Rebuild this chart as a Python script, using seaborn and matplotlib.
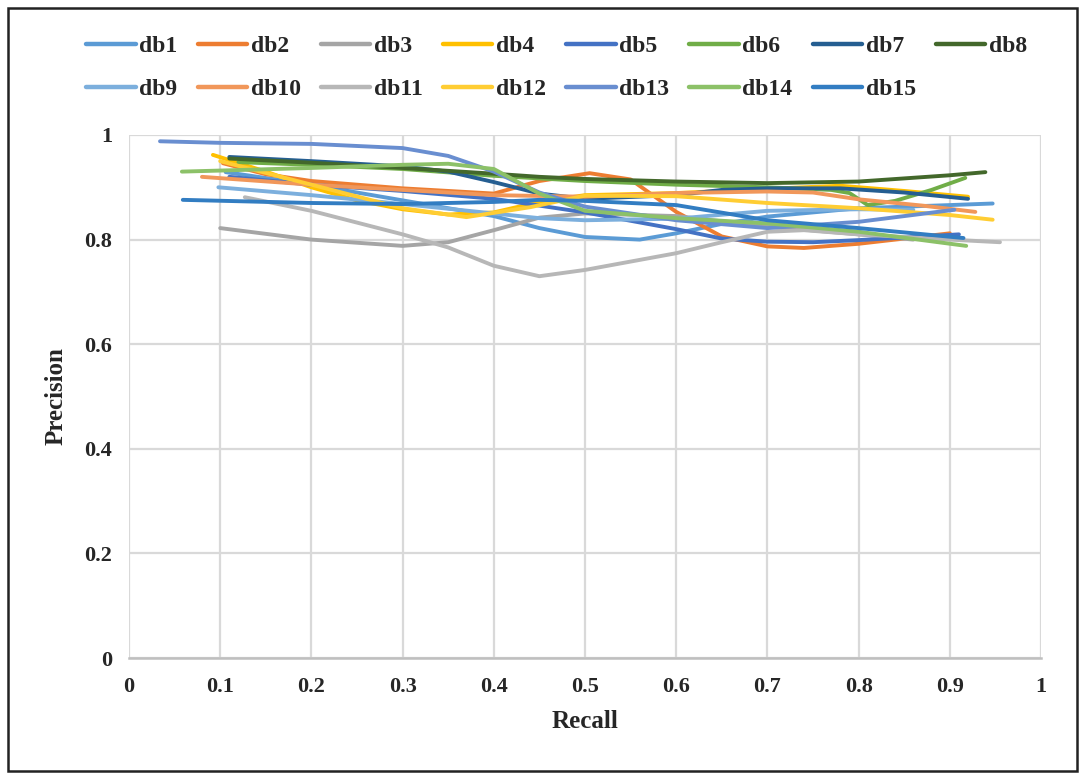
import matplotlib
matplotlib.use("Agg")
import matplotlib.pyplot as plt
import seaborn as sns
import pandas as pd
from matplotlib.patches import Rectangle
from matplotlib.lines import Line2D

# ---- data ----
db1_recall = [0.106, 0.2, 0.3, 0.4, 0.45, 0.5, 0.56, 0.6, 0.65, 0.7, 0.8, 0.9, 0.947]
db1_precision = [0.929, 0.905, 0.875, 0.845, 0.822, 0.805, 0.800, 0.812, 0.83, 0.844, 0.86, 0.866, 0.869]

db2_recall = [0.103, 0.15, 0.2, 0.3, 0.4, 0.45, 0.505, 0.55, 0.6, 0.65, 0.7, 0.74, 0.8, 0.85, 0.9]
db2_precision = [0.946, 0.925, 0.912, 0.898, 0.888, 0.912, 0.927, 0.915, 0.853, 0.806, 0.787, 0.784, 0.792, 0.802, 0.812]

db3_recall = [0.1, 0.2, 0.3, 0.35, 0.4, 0.45, 0.5, 0.6, 0.7, 0.8, 0.86]
db3_precision = [0.822, 0.80, 0.788, 0.795, 0.818, 0.842, 0.85, 0.845, 0.825, 0.81, 0.80]

db4_recall = [0.092, 0.15, 0.2, 0.25, 0.3, 0.35, 0.4, 0.45, 0.5, 0.6, 0.7, 0.78, 0.85, 0.92]
db4_precision = [0.962, 0.93, 0.90, 0.875, 0.858, 0.848, 0.852, 0.872, 0.885, 0.889, 0.897, 0.903, 0.893, 0.882]

db5_recall = [0.11, 0.2, 0.3, 0.4, 0.45, 0.5, 0.6, 0.65, 0.7, 0.75, 0.8, 0.86, 0.91]
db5_precision = [0.92, 0.905, 0.893, 0.878, 0.865, 0.852, 0.82, 0.802, 0.796, 0.795, 0.799, 0.805, 0.81]

db6_recall = [0.12, 0.2, 0.3, 0.4, 0.5, 0.6, 0.7, 0.77, 0.79, 0.81, 0.84, 0.88, 0.917]
db6_precision = [0.948, 0.943, 0.935, 0.922, 0.912, 0.905, 0.90, 0.895, 0.889, 0.866, 0.874, 0.895, 0.918]

db7_recall = [0.11, 0.2, 0.3, 0.35, 0.4, 0.45, 0.5, 0.6, 0.65, 0.7, 0.78, 0.85, 0.92]
db7_precision = [0.958, 0.95, 0.94, 0.93, 0.91, 0.888, 0.878, 0.885, 0.895, 0.898, 0.898, 0.89, 0.878]

db8_recall = [0.11, 0.2, 0.3, 0.4, 0.45, 0.5, 0.6, 0.7, 0.8, 0.9, 0.939]
db8_precision = [0.955, 0.947, 0.937, 0.926, 0.92, 0.916, 0.911, 0.908, 0.911, 0.923, 0.929]

db9_recall = [0.098, 0.2, 0.3, 0.4, 0.45, 0.5, 0.6, 0.7, 0.8, 0.86]
db9_precision = [0.90, 0.885, 0.868, 0.85, 0.841, 0.837, 0.84, 0.855, 0.858, 0.857]

db10_recall = [0.08, 0.2, 0.3, 0.4, 0.5, 0.6, 0.7, 0.75, 0.8, 0.87, 0.928]
db10_precision = [0.92, 0.905, 0.895, 0.885, 0.882, 0.889, 0.892, 0.89, 0.877, 0.865, 0.853]

db11_recall = [0.127, 0.2, 0.3, 0.35, 0.4, 0.45, 0.5, 0.6, 0.65, 0.7, 0.74, 0.8, 0.9, 0.955]
db11_precision = [0.881, 0.855, 0.81, 0.785, 0.75, 0.73, 0.742, 0.774, 0.795, 0.815, 0.818, 0.81, 0.80, 0.795]

db12_recall = [0.1, 0.2, 0.3, 0.37, 0.44, 0.5, 0.6, 0.7, 0.8, 0.9, 0.947]
db12_precision = [0.95, 0.905, 0.86, 0.843, 0.862, 0.884, 0.883, 0.87, 0.86, 0.847, 0.838]

db13_recall = [0.034, 0.1, 0.2, 0.3, 0.35, 0.4, 0.45, 0.5, 0.6, 0.7, 0.8, 0.905]
db13_precision = [0.988, 0.985, 0.983, 0.975, 0.96, 0.93, 0.89, 0.863, 0.837, 0.822, 0.834, 0.857]

db14_recall = [0.058, 0.1, 0.2, 0.3, 0.35, 0.4, 0.45, 0.5, 0.6, 0.7, 0.8, 0.918]
db14_precision = [0.93, 0.932, 0.937, 0.943, 0.945, 0.935, 0.888, 0.855, 0.841, 0.831, 0.815, 0.788]

db15_recall = [0.059, 0.2, 0.3, 0.4, 0.45, 0.5, 0.6, 0.7, 0.8, 0.915]
db15_precision = [0.876, 0.87, 0.868, 0.872, 0.876, 0.874, 0.866, 0.837, 0.822, 0.803]

series_names = ["db1", "db2", "db3", "db4", "db5", "db6", "db7", "db8",
                "db9", "db10", "db11", "db12", "db13", "db14", "db15"]
series_colors = ["#5B9BD5", "#ED7D31", "#A5A5A5", "#FFC000", "#4472C4", "#70AD47",
                 "#255E91", "#43682B", "#7CAFDD", "#F1975A", "#B7B7B7", "#FFCD33",
                 "#698ED0", "#8CC168", "#327DC2"]
x_ticks = [0, 0.1, 0.2, 0.3, 0.4, 0.5, 0.6, 0.7, 0.8, 0.9, 1]
x_tick_labels = ["0", "0.1", "0.2", "0.3", "0.4", "0.5", "0.6", "0.7", "0.8", "0.9", "1"]
y_ticks = [0, 0.2, 0.4, 0.6, 0.8, 1]
y_tick_labels = ["0", "0.2", "0.4", "0.6", "0.8", "1"]

recalls = [db1_recall, db2_recall, db3_recall, db4_recall, db5_recall, db6_recall,
           db7_recall, db8_recall, db9_recall, db10_recall, db11_recall, db12_recall,
           db13_recall, db14_recall, db15_recall]
precisions = [db1_precision, db2_precision, db3_precision, db4_precision, db5_precision,
              db6_precision, db7_precision, db8_precision, db9_precision, db10_precision,
              db11_precision, db12_precision, db13_precision, db14_precision, db15_precision]

rows = []
for name, rs, ps in zip(series_names, recalls, precisions):
    for i, (r, p) in enumerate(zip(rs, ps)):
        rows.append({"series": name, "order": i, "Recall": r, "Precision": p})
df = pd.DataFrame(rows)

# ---- plotting ----
sns.set_theme(style="white")
plt.rcParams["font.family"] = ["Liberation Serif", "DejaVu Serif"]
plt.rcParams["font.weight"] = "bold"

fig = plt.figure(figsize=(10.85, 7.79), dpi=100)
ax = fig.add_axes([129 / 1085, 1 - 658 / 779, (1041 - 129) / 1085, (658 - 135) / 779])

palette = dict(zip(series_names, series_colors))
sns.lineplot(data=df, x="Recall", y="Precision", hue="series", units="series",
             estimator=None, sort=False, palette=palette, hue_order=series_names,
             linewidth=2.8, ax=ax, legend=False)
for line in ax.get_lines():
    line.set_solid_capstyle("round")
    line.set_solid_joinstyle("round")

ax.set_xlim(0, 1)
ax.set_ylim(0, 1)
ax.set_xticks(x_ticks)
ax.set_xticklabels(x_tick_labels, fontsize=16, fontweight="bold")
ax.set_yticks(y_ticks)
ax.set_yticklabels(y_tick_labels, fontsize=16, fontweight="bold")
ax.tick_params(axis="x", length=0, pad=14)
ax.tick_params(axis="y", length=0, pad=12)
ax.grid(True, color="#D9D9D9", linewidth=1.6)
ax.set_axisbelow(True)
for side in ["top", "left", "right"]:
    ax.spines[side].set_visible(False)
ax.spines["bottom"].set_color("#BFBFBF")
ax.spines["bottom"].set_linewidth(1.8)
ax.set_xlabel("Recall", fontsize=18, fontweight="bold", labelpad=9)
ax.set_ylabel("Precision", fontsize=18, fontweight="bold", labelpad=12)

# legend: two rows, row-major order
handles = [Line2D([0], [0], color=c, linewidth=3.2, solid_capstyle="round") for c in series_colors]
order = []
for k in range(8):
    order.append(k)
    if k + 8 < 15:
        order.append(k + 8)
leg = fig.legend([handles[i] for i in order], [series_names[i] for i in order],
                 loc="upper center", bbox_to_anchor=(0.513, 0.966), ncol=8,
                 frameon=False, prop={"family": "Liberation Serif", "weight": "bold", "size": 17},
                 handlelength=2.1, handletextpad=0.15, columnspacing=0.85,
                 labelspacing=0.9, borderaxespad=0.0)

# outer border
fig.patches.append(Rectangle((8 / 1085, 8 / 779), 1069 / 1085, 763 / 779,
                             transform=fig.transFigure, fill=False,
                             edgecolor="#222222", linewidth=1.8))

fig.savefig("out.png", dpi=100)
